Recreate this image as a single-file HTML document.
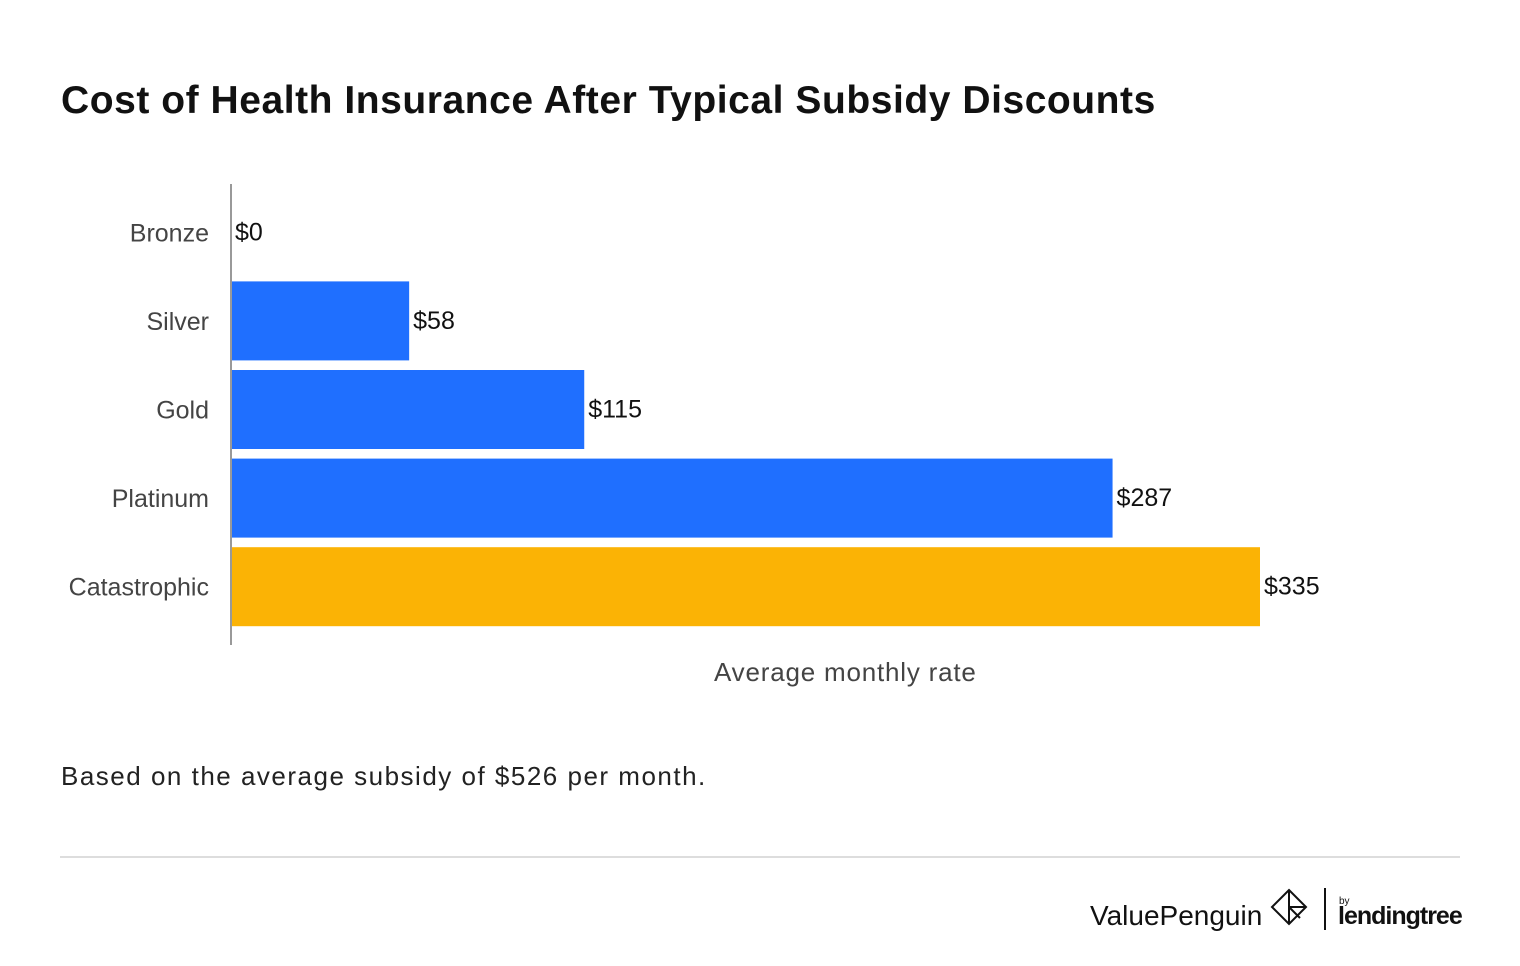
<!DOCTYPE html>
<html><head><meta charset="utf-8"><style>
body{margin:0;width:1520px;height:966px;background:#fff;font-family:"Liberation Sans",sans-serif;position:relative;overflow:hidden}
.t{position:absolute;white-space:nowrap}
</style></head><body>
<div class="t" style="left:61px;top:79px;font-size:39px;font-weight:bold;color:#111;letter-spacing:0.55px">Cost of Health Insurance After Typical Subsidy Discounts</div>
<svg style="position:absolute;left:0;top:0" width="1520" height="720" id="chart"></svg>
<div class="t" style="left:714px;top:657px;font-size:26px;color:#444;letter-spacing:0.8px">Average monthly rate</div>
<div class="t" style="left:61px;top:761px;font-size:26px;color:#222;letter-spacing:1.5px">Based on the average subsidy of $526 per month.</div>
<div style="position:absolute;left:60px;top:856px;width:1400px;height:2px;background:#ddd"></div>
<div class="t" style="left:1090px;top:900px;font-size:28px;color:#111;letter-spacing:0px">ValuePenguin</div>
<svg style="position:absolute;left:1270px;top:888px" width="38" height="40"><path d="M19 2 L36 19 L19 36 L2 19 Z M19 2 L19 36 M19 19 L36 19 M19 19 L30 30" fill="none" stroke="#111" stroke-width="2"/></svg>
<div style="position:absolute;left:1324px;top:888px;width:2px;height:42px;background:#111"></div>
<div class="t" style="left:1339px;top:896px;font-size:10px;color:#111">by</div>
<div class="t" style="left:1338px;top:902px;font-size:25px;font-weight:bold;color:#111;letter-spacing:-1px">lendingtree</div>
<script>
const categories=["Bronze","Silver","Gold","Platinum","Catastrophic"];
const values=[0,58,115,287,335];
const colors=["#1f6fff","#1f6fff","#1f6fff","#1f6fff","#fbb305"];
const labels=["$0","$58","$115","$287","$335"];
const svg=document.getElementById('chart');
const NS="http://www.w3.org/2000/svg";
const x0=231, pxPer=1029/335, top0=188, band=88.6, barH=79;
const xs=v=>x0+v*pxPer;
const yc=i=>top0+band*i+band/2;
categories.forEach((c,i)=>{
  const r=document.createElementNS(NS,'rect');
  
  
  r.setAttribute('x',x0);r.setAttribute('y',yc(i)-barH/2);
  r.setAttribute('width',xs(values[i])-x0);r.setAttribute('height',barH);
  r.setAttribute('fill',colors[i]);svg.appendChild(r);
  const t=document.createElementNS(NS,'text');
  
  
  t.setAttribute('x',209);t.setAttribute('y',yc(i)+9);t.setAttribute('text-anchor','end');
  t.setAttribute('font-size','25');t.setAttribute('fill','#444');
  t.setAttribute('font-family','Liberation Sans, sans-serif');t.textContent=c;svg.appendChild(t);
  const v=document.createElementNS(NS,'text');
  
  
  v.setAttribute('x',xs(values[i])+4);v.setAttribute('y',yc(i)+8);
  v.setAttribute('font-size','25');v.setAttribute('fill','#111');
  v.setAttribute('font-family','Liberation Sans, sans-serif');v.textContent=labels[i];svg.appendChild(v);
});
const ax=document.createElementNS(NS,'line');


ax.setAttribute('x1',x0);ax.setAttribute('x2',x0);ax.setAttribute('y1',184);ax.setAttribute('y2',645);
ax.setAttribute('stroke','#999');ax.setAttribute('stroke-width','2');svg.appendChild(ax);
</script>
</body></html>
